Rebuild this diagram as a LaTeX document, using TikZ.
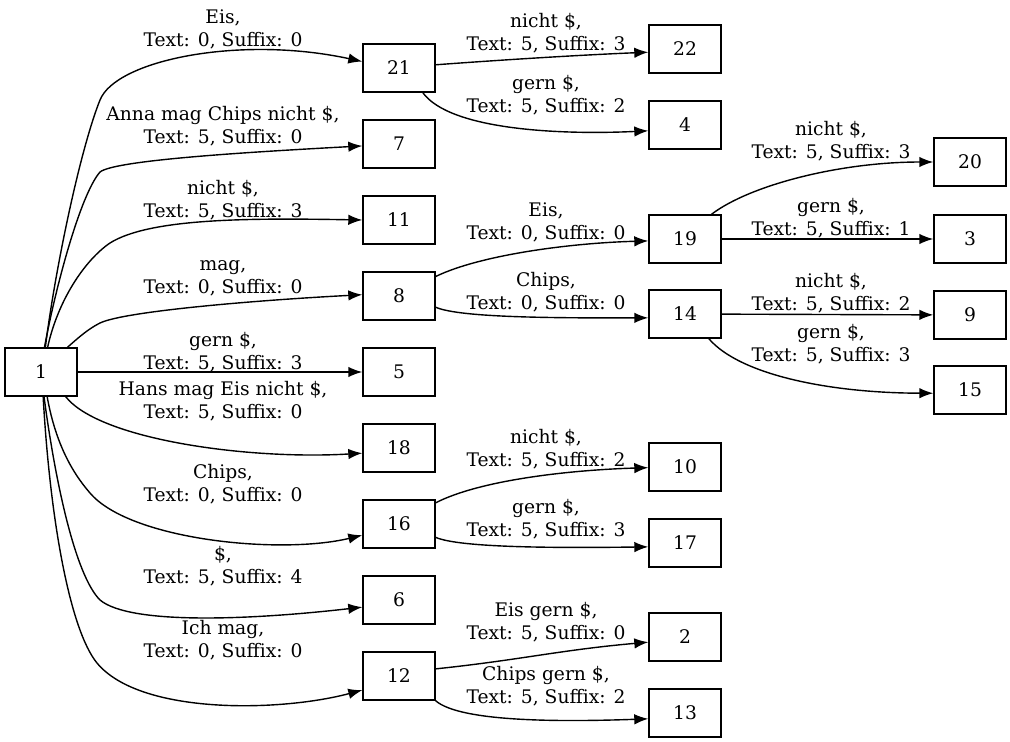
\documentclass[tikz,border=0pt]{standalone}
\usepackage{fontspec}
\setmainfont{DejaVu Serif}
\usetikzlibrary{arrows.meta}

\begin{document}
\begin{tikzpicture}[x=1pt,y=-1pt]
      \tikzstyle{every node}=[font=\fontsize{18.7}{23}\selectfont]
      \tikzstyle{state}=[draw, rectangle, line width=1.4pt, minimum width=72pt, minimum height=48pt, inner sep=0pt]
      \tikzstyle{lab}=[align=center, inner sep=0pt]
      \tikzstyle{trans}=[line width=1.4pt, -{Latex[length=14pt,width=10.5pt]}]
      \useasboundingbox (0,0) rectangle (1010,742);

      % suffix tree nodes
      \node[state] (n1) at (41,372) {1};
      \node[state] (n21) at (399,68) {21};
      \node[state] (n7) at (399,144) {7};
      \node[state] (n11) at (399,220) {11};
      \node[state] (n8) at (399,296) {8};
      \node[state] (n5) at (399,372) {5};
      \node[state] (n18) at (399,448) {18};
      \node[state] (n16) at (399,524) {16};
      \node[state] (n6) at (399,600) {6};
      \node[state] (n12) at (399,676) {12};
      \node[state] (n22) at (685,49) {22};
      \node[state] (n4) at (685,125) {4};
      \node[state] (n19) at (685,239) {19};
      \node[state] (n14) at (685,314) {14};
      \node[state] (n10) at (685,467) {10};
      \node[state] (n17) at (685,543) {17};
      \node[state] (n2) at (685,637) {2};
      \node[state] (n13) at (685,713) {13};
      \node[state] (n20) at (970,162) {20};
      \node[state] (n3) at (970,239) {3};
      \node[state] (n9) at (970,315) {9};
      \node[state] (n15) at (970,390) {15};

      % edge labels
      \node[lab] (l21) at (223,29) {Eis,\\Text: 0, Suffix: 0};
      \node[lab] (l7) at (223,126) {Anna mag Chips nicht \$,\\Text: 5, Suffix: 0};
      \node[lab] (l11) at (223,200) {nicht \$,\\Text: 5, Suffix: 3};
      \node[lab] (l8) at (223,278) {mag,\\Text: 0, Suffix: 0};
      \node[lab] (l5) at (223,352) {gern \$,\\Text: 5, Suffix: 3};
      \node[lab] (l18) at (223,401) {Hans mag Eis nicht \$,\\Text: 5, Suffix: 0};
      \node[lab] (l16) at (223,484) {Chips,\\Text: 0, Suffix: 0};
      \node[lab] (l6) at (223,566) {\$,\\Text: 5, Suffix: 4};
      \node[lab] (l12) at (223,640) {Ich mag,\\Text: 0, Suffix: 0};
      \node[lab] (l22) at (546,33) {nicht \$,\\Text: 5, Suffix: 3};
      \node[lab] (l4) at (546,95) {gern \$,\\Text: 5, Suffix: 2};
      \node[lab] (l19) at (546,222) {Eis,\\Text: 0, Suffix: 0};
      \node[lab] (l14) at (546,292) {Chips,\\Text: 0, Suffix: 0};
      \node[lab] (l10) at (546,449) {nicht \$,\\Text: 5, Suffix: 2};
      \node[lab] (l17) at (546,519) {gern \$,\\Text: 5, Suffix: 3};
      \node[lab] (l2) at (546,622) {Eis gern \$,\\Text: 5, Suffix: 0};
      \node[lab] (l13) at (546,686) {Chips gern \$,\\Text: 5, Suffix: 2};
      \node[lab] (l20) at (831,141) {nicht \$,\\Text: 5, Suffix: 3};
      \node[lab] (l3) at (831,218) {gern \$,\\Text: 5, Suffix: 1};
      \node[lab] (l9) at (831,293) {nicht \$,\\Text: 5, Suffix: 2};
      \node[lab] (l15) at (831,344) {gern \$,\\Text: 5, Suffix: 3};

      % edges from the root
      \draw[trans] (n1.80) .. controls (55,270) and (80,150) .. (100,100) .. controls (116,60) and (240,35) .. (n21.170);
      \draw[trans] (n1.82) .. controls (55,290) and (80,195) .. (100,172) .. controls (115,160) and (250,152) .. (n7.183);
      \draw[trans] (n1.75) .. controls (58,300) and (85,260) .. (110,243) .. controls (150,218) and (250,218) .. (n11.west);
      \draw[trans] (n1.43) .. controls (78,338) and (88,329) .. (100,323) .. controls (125,311) and (260,300) .. (n8.178);
      \draw[trans] (n1) -- (n5);
      \draw[trans] (n1.315) .. controls (100,440) and (250,460) .. (n18.188);
      \draw[trans] (n1.284) .. controls (55,440) and (70,470) .. (90,493) .. controls (130,540) and (280,555) .. (n16.197);
      \draw[trans] (n1.277) .. controls (55,480) and (75,575) .. (100,600) .. controls (130,625) and (250,620) .. (n6.191);
      \draw[trans] (n1.275) .. controls (50,520) and (70,630) .. (97,663) .. controls (140,715) and (280,712) .. (n12.201);

      % inner edges
      \draw[trans] (n21.5) .. controls (500,60) and (580,55) .. (n22.185);
      \draw[trans] (n21.314) .. controls (450,130) and (560,135) .. (n4.189);
      \draw[trans] (n8.28) .. controls (480,255) and (570,243) .. (n19.183);
      \draw[trans] (n8.343) .. controls (460,318) and (560,318) .. (n14.186);
      \draw[trans] (n19.43) .. controls (750,185) and (840,162) .. (n20.west);
      \draw[trans] (n19) -- (n3);
      \draw[trans] (n14) -- (n9);
      \draw[trans] (n14.314) .. controls (740,375) and (830,393) .. (n15.185);
      \draw[trans] (n16.30) .. controls (480,480) and (570,470) .. (n10.181);
      \draw[trans] (n16.340) .. controls (460,548) and (560,548) .. (n17.186);
      \draw[trans] (n12.11) .. controls (520,660) and (560,650) .. (n2.188);
      \draw[trans] (n12.326) .. controls (460,722) and (560,722) .. (n13.189);
\end{tikzpicture}
\end{document}
